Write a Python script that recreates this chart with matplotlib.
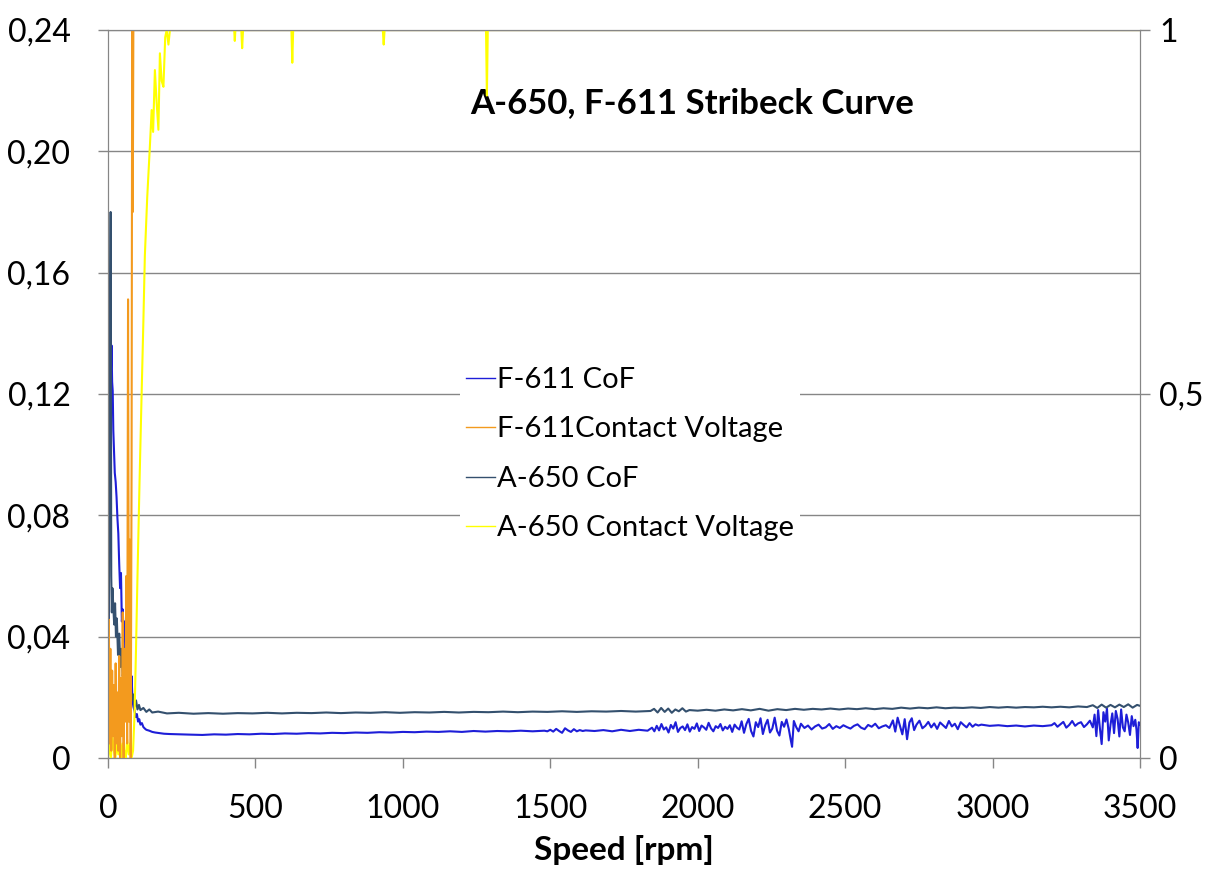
import numpy as np
import matplotlib.pyplot as plt
from matplotlib.ticker import FuncFormatter

# F-611 coefficient of friction (left axis)
f611_speed = [0, 2, 4, 6, 8, 10, 12, 14, 16, 18,
              20, 23, 26, 29, 32, 35, 38, 41, 44, 47,
              50, 53, 56, 59, 62, 65, 68, 71, 74, 77,
              80, 83, 86, 90, 94, 98, 102, 106, 110, 115,
              120, 125, 130, 140, 150, 160, 175, 190, 210, 240,
              280, 320, 360, 400, 440, 480, 520, 560, 600, 640,
              680, 720, 760, 800, 840, 880, 920, 960, 1000, 1040,
              1080, 1120, 1160, 1200, 1240, 1280, 1320, 1360, 1400, 1440,
              1480, 1490, 1500, 1510, 1520, 1530, 1540, 1550, 1560, 1570,
              1580, 1590, 1600, 1610, 1620, 1650, 1680, 1710, 1740, 1770,
              1800, 1830, 1845, 1853, 1861, 1869, 1877, 1885, 1893, 1901,
              1909, 1917, 1925, 1933, 1941, 1949, 1957, 1965, 1973, 1981,
              1989, 1997, 2005, 2013, 2021, 2029, 2037, 2045, 2053, 2061,
              2069, 2077, 2085, 2093, 2101, 2109, 2117, 2125, 2133, 2141,
              2149, 2157, 2165, 2173, 2181, 2189, 2197, 2205, 2213, 2221,
              2229, 2237, 2245, 2253, 2261, 2269, 2277, 2285, 2293, 2301,
              2309, 2315, 2320, 2326, 2334, 2342, 2350, 2362, 2374, 2386,
              2398, 2410, 2422, 2434, 2446, 2458, 2470, 2482, 2494, 2506,
              2518, 2530, 2542, 2554, 2566, 2578, 2590, 2602, 2614, 2626,
              2638, 2650, 2662, 2670, 2678, 2686, 2694, 2702, 2710, 2718,
              2726, 2734, 2742, 2752, 2762, 2772, 2782, 2792, 2802, 2812,
              2822, 2832, 2842, 2852, 2862, 2872, 2882, 2892, 2902, 2912,
              2922, 2932, 2942, 2952, 2962, 2990, 3020, 3050, 3080, 3110,
              3140, 3170, 3200, 3210, 3220, 3230, 3240, 3250, 3260, 3270,
              3280, 3290, 3300, 3310, 3320, 3330, 3340, 3346, 3352, 3358,
              3364, 3370, 3376, 3382, 3388, 3394, 3400, 3406, 3412, 3418,
              3424, 3430, 3436, 3442, 3448, 3454, 3460, 3466, 3472, 3478,
              3484, 3488, 3492, 3496, 3500]
f611_cof = [0.002, 0.03, 0.09, 0.15, 0.158, 0.128, 0.136, 0.124, 0.121, 0.108,
            0.102, 0.094, 0.091, 0.086, 0.079, 0.074, 0.064, 0.056, 0.061, 0.045,
            0.049, 0.040, 0.045, 0.034, 0.038, 0.029, 0.032, 0.025, 0.029, 0.021,
            0.027, 0.019, 0.017, 0.0155, 0.0135, 0.0145, 0.012, 0.0128, 0.011, 0.0115,
            0.0102, 0.0097, 0.0093, 0.009, 0.0086, 0.0084, 0.0082, 0.0080, 0.0079, 0.0078,
            0.0077, 0.0076, 0.0078, 0.0077, 0.0079, 0.0078, 0.0080, 0.0079, 0.0081, 0.0080,
            0.0082, 0.0081, 0.0083, 0.0082, 0.0084, 0.0083, 0.0085, 0.0084, 0.0086, 0.0085,
            0.0087, 0.0086, 0.0088, 0.0086, 0.0089, 0.0087, 0.0089, 0.0088, 0.0090, 0.0088,
            0.0090, 0.0088, 0.0093, 0.0087, 0.0096, 0.0089, 0.0083, 0.0098, 0.0091, 0.0086,
            0.0095, 0.0088, 0.0092, 0.0089, 0.0091, 0.0089, 0.0092, 0.0088, 0.0093, 0.0089,
            0.0093, 0.0090, 0.0100, 0.0088, 0.0106, 0.0091, 0.0112, 0.0094, 0.0101, 0.0084,
            0.0109, 0.0097, 0.0118, 0.0086, 0.0099, 0.0104, 0.0092, 0.0111, 0.0087, 0.0102,
            0.0096, 0.0114, 0.0089, 0.0107, 0.0101, 0.0093, 0.0116, 0.0098, 0.0088, 0.0105,
            0.0099, 0.0112, 0.0091, 0.0103, 0.0096, 0.0108, 0.0086, 0.0110, 0.0100, 0.0094,
            0.0121, 0.0083, 0.0112, 0.0129, 0.0089, 0.0071, 0.0118, 0.0102, 0.0131, 0.0079,
            0.0108, 0.0126, 0.0084, 0.0097, 0.0133, 0.0090, 0.0074, 0.0119, 0.0103, 0.0127,
            0.0095, 0.0062, 0.0037, 0.0122, 0.0102, 0.0088, 0.0113, 0.0099, 0.0107, 0.0094,
            0.0104, 0.0110, 0.0097, 0.0101, 0.0112, 0.0096, 0.0105, 0.0099, 0.0108, 0.0102,
            0.0097, 0.0106, 0.0111, 0.0100, 0.0095, 0.0109, 0.0103, 0.0113, 0.0098, 0.0104,
            0.0108, 0.0099, 0.0124, 0.0087, 0.0133, 0.0105, 0.0078, 0.0128, 0.0062, 0.0117,
            0.0131, 0.0092, 0.0110, 0.0123, 0.0098, 0.0106, 0.0119, 0.0101, 0.0114, 0.0096,
            0.0117, 0.0108, 0.0099, 0.0122, 0.0104, 0.0113, 0.0095, 0.0118, 0.0109, 0.0101,
            0.0115, 0.0103, 0.0111, 0.0107, 0.0110, 0.0106, 0.0108, 0.0105, 0.0107, 0.0104,
            0.0107, 0.0105, 0.0108, 0.0115, 0.0103, 0.0111, 0.0119, 0.0100, 0.0109, 0.0122,
            0.0106, 0.0114, 0.0118, 0.0102, 0.0111, 0.0123, 0.0101, 0.0143, 0.0072, 0.0158,
            0.0098, 0.0046, 0.0151, 0.0120, 0.0163, 0.0058, 0.0110, 0.0147, 0.0082, 0.0155,
            0.0129, 0.0071, 0.0160, 0.0101, 0.0088, 0.0143, 0.0117, 0.0076, 0.0138, 0.0105,
            0.0126, 0.0094, 0.0033, 0.0118, 0.0110]

# A-650 coefficient of friction (left axis)
a650_speed = [0, 3, 6, 9, 11, 13, 15, 18, 21, 24,
              27, 30, 34, 38, 42, 46, 50, 55, 60, 65,
              70, 75, 80, 85, 90, 95, 100, 105, 110, 120,
              130, 140, 150, 170, 200, 240, 290, 340, 390, 440,
              490, 540, 590, 640, 690, 740, 790, 840, 890, 940,
              990, 1040, 1090, 1140, 1190, 1240, 1290, 1340, 1390, 1440,
              1490, 1540, 1590, 1640, 1690, 1740, 1790, 1840, 1852, 1864,
              1876, 1888, 1900, 1912, 1924, 1936, 1948, 1960, 1972, 2000,
              2030, 2060, 2090, 2120, 2150, 2180, 2210, 2240, 2270, 2300,
              2330, 2360, 2390, 2420, 2450, 2480, 2510, 2540, 2570, 2600,
              2630, 2660, 2690, 2720, 2750, 2780, 2810, 2840, 2870, 2900,
              2930, 2960, 2990, 3020, 3050, 3080, 3110, 3140, 3170, 3200,
              3230, 3260, 3290, 3320, 3340, 3355, 3370, 3385, 3400, 3415,
              3430, 3445, 3460, 3475, 3490, 3500]
a650_cof = [0.004, 0.05, 0.12, 0.180, 0.060, 0.048, 0.056, 0.050, 0.044, 0.051,
            0.040, 0.046, 0.034, 0.041, 0.030, 0.036, 0.027, 0.031, 0.023, 0.027,
            0.021, 0.024, 0.019, 0.021, 0.017, 0.019, 0.016, 0.0175, 0.0158, 0.0165,
            0.0152, 0.0160, 0.0150, 0.0153, 0.0147, 0.0149, 0.0146, 0.0148, 0.0146, 0.0148,
            0.0147, 0.0149, 0.0147, 0.0149, 0.0148, 0.0150, 0.0148, 0.0150, 0.0149, 0.0151,
            0.0149, 0.0151, 0.0150, 0.0152, 0.0150, 0.0152, 0.0151, 0.0153, 0.0151, 0.0153,
            0.0152, 0.0154, 0.0152, 0.0154, 0.0153, 0.0155, 0.0153, 0.0155, 0.0162, 0.0150,
            0.0165, 0.0152, 0.0163, 0.0149, 0.0160, 0.0154, 0.0164, 0.0153, 0.0158, 0.0156,
            0.0159, 0.0156, 0.0160, 0.0157, 0.0161, 0.0157, 0.0162, 0.0156, 0.0161, 0.0158,
            0.0162, 0.0159, 0.0162, 0.0160, 0.0163, 0.0160, 0.0163, 0.0161, 0.0164, 0.0161,
            0.0164, 0.0162, 0.0166, 0.0163, 0.0166, 0.0164, 0.0167, 0.0164, 0.0166, 0.0165,
            0.0167, 0.0165, 0.0168, 0.0166, 0.0168, 0.0166, 0.0168, 0.0167, 0.0169, 0.0167,
            0.0169, 0.0167, 0.0170, 0.0168, 0.0174, 0.0165, 0.0176, 0.0166, 0.0175, 0.0167,
            0.0176, 0.0168, 0.0177, 0.0166, 0.0175, 0.0172]

# contact voltages (right axis)
f611_volt_speed = [0, 2, 3, 5, 8, 11, 14, 17, 20, 23, 26, 29, 32, 35, 38, 41,
                   44, 47, 50, 53, 56, 59, 62, 65, 68, 71, 74, 77, 80, 82, 84, 86, 3500]
f611_volt = [0.0, 0.12, 0.19, 0.02, 0.15, 0.01, 0.12, 0.03, 0.10, 0.0, 0.13, 0.02,
             0.09, 0.01, 0.14, 0.0, 0.11, 0.03, 0.20, 0.0, 0.15, 0.05, 0.25, 0.02,
             0.63, 0.05, 0.30, 0.0, 0.40, 1.0, 0.75, 1.0, 1.0]

a650_volt_speed = [0, 5, 10, 15, 20, 25, 30, 35, 40, 45,
                   50, 55, 60, 65, 70, 75, 80, 85, 90, 95,
                   100, 107, 114, 120, 125, 133, 142, 148, 153, 159,
                   165, 171, 176, 182, 188, 194, 199, 205, 210,
                   428, 430, 432, 452, 455, 458, 622, 625, 628,
                   932, 935, 938, 1282, 1285, 1288, 3500]
a650_volt = [0.0, 0.02, 0.0, 0.03, 0.01, 0.0, 0.02, 0.005, 0.03, 0.0,
             0.02, 0.01, 0.0, 0.025, 0.005, 0.02, 0.0, 0.01, 0.06, 0.15,
             0.25, 0.38, 0.50, 0.60, 0.69, 0.77, 0.84, 0.89, 0.86, 0.945,
             0.90, 0.863, 0.968, 0.93, 0.922, 0.99, 1.0, 0.98, 1.0,
             1.0, 0.985, 1.0, 1.0, 0.975, 1.0, 1.0, 0.955, 1.0,
             1.0, 0.98, 1.0, 1.0, 0.91, 1.0, 1.0]

plt.rcParams['font.family'] = ['Lato', 'DejaVu Sans']
grey = '#868686'

fig = plt.figure(figsize=(12.12, 8.71), dpi=100)
ax = fig.add_axes([108 / 1212, 1 - 758 / 871, 1032 / 1212, 728 / 871])
ax2 = ax.twinx()

l1, = ax.plot(f611_speed, f611_cof, color='#1E1ED8', lw=1.5, label='F-611 CoF')
l3, = ax.plot(a650_speed, a650_cof, color='#34506E', lw=1.5, label='A-650 CoF')
l4, = ax2.plot(a650_volt_speed, a650_volt, color='#FFFF00', lw=1.5, label='A-650 Contact Voltage')
l2, = ax2.plot(f611_volt_speed, f611_volt, color='#F39A1E', lw=1.5, label='F-611Contact Voltage')

ax.set_xlim(0, 3500)
ax.set_ylim(0, 0.24)
ax2.set_ylim(0, 1)
ax.set_xticks(np.arange(0, 3501, 500))
ax.set_yticks(np.arange(0, 0.2401, 0.04))
ax2.set_yticks([0, 0.5, 1])

ax.yaxis.set_major_formatter(FuncFormatter(lambda v, p: '0' if abs(v) < 1e-9 else f'{v:.2f}'.replace('.', ',')))
ax2.yaxis.set_major_formatter(FuncFormatter(lambda v, p: f'{v:g}'.replace('.', ',')))

ax.grid(axis='y', color=grey, lw=1)
for a in (ax, ax2):
    for s in a.spines.values():
        s.set_color(grey)
    a.tick_params(colors=grey, labelcolor='black', labelsize=23, length=7, width=1)
ax.tick_params(axis='x', pad=19)
ax.tick_params(axis='y', pad=20)
ax2.tick_params(axis='y', pad=7)

ax.set_xlabel('Speed [rpm]', fontsize=24, fontweight='bold', labelpad=8)
ax.text(0.566, 0.9, 'A-650, F-611 Stribeck Curve', transform=ax.transAxes,
        ha='center', va='center', fontsize=25, fontweight='bold')

leg = ax2.legend(handles=[l1, l2, l3, l4], loc='upper left', bbox_to_anchor=(0.327, 0.565),
                 fontsize=21, frameon=True, facecolor='white', edgecolor='none',
                 framealpha=1, handlelength=1.0, handletextpad=0.08, labelspacing=0.8,
                 borderpad=0.2, fancybox=False)
for h in leg.get_lines():
    h.set_linewidth(1)

fig.savefig('out.png', dpi=100)
